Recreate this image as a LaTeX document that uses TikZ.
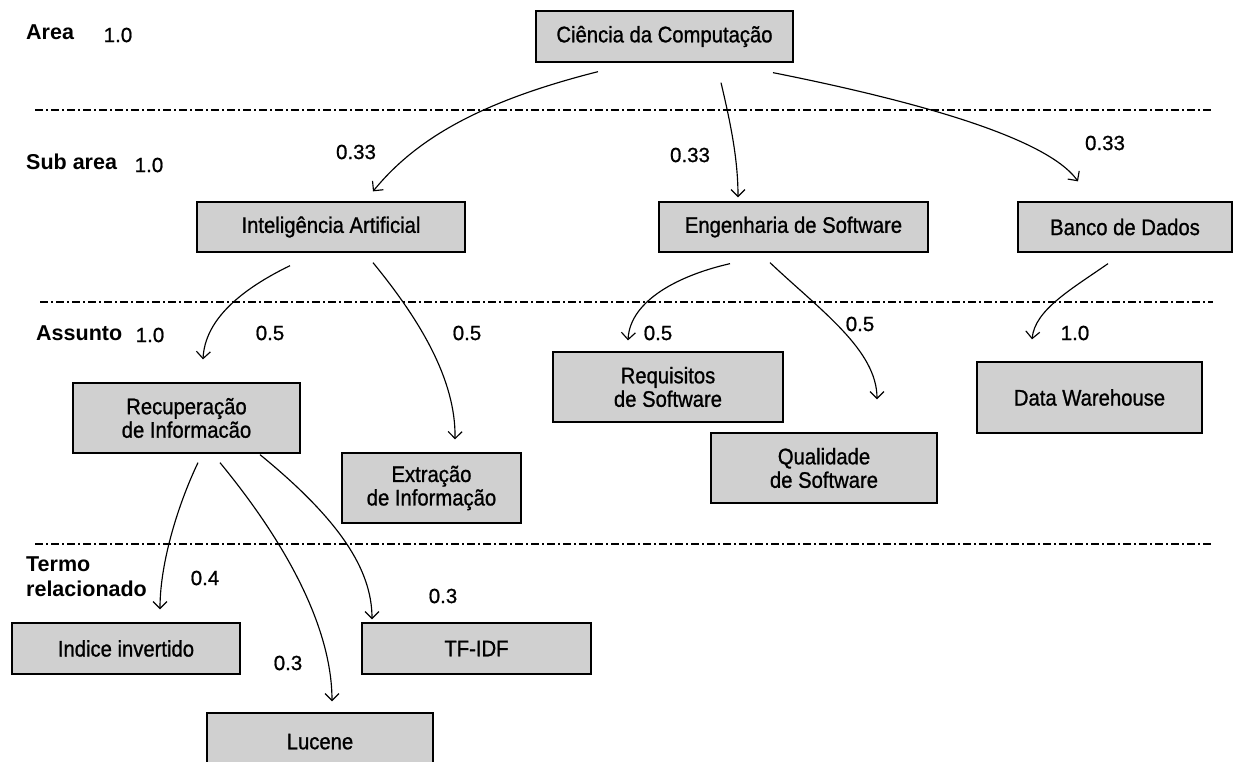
\documentclass[tikz,border=0pt]{standalone}
\usepackage{fontspec}
\setmainfont{Liberation Sans}
\newfontfamily\boxfont{Liberation Sans}[FakeStretch=0.9,FakeBold=1.0]
\newfontfamily\numfont{Liberation Sans}[FakeBold=0.8]
\usetikzlibrary{arrows.meta,calc}
\definecolor{boxgray}{RGB}{208,208,208}
\begin{document}
\begin{tikzpicture}[x=1pt,y=-1pt,
  box/.style={draw=black, line width=1.3pt, fill=boxgray, inner sep=0pt, align=center,
    font=\boxfont\fontsize{22.5}{23.5}\selectfont},
  lvl/.style={font=\bfseries\fontsize{21.5}{25}\selectfont, anchor=west, align=left, inner sep=0pt},
  wt/.style={font=\numfont\fontsize{20.5}{22}\selectfont, inner sep=0pt},
  sep/.style={line width=1.3pt, dash pattern=on 8pt off 3pt on 2pt off 3pt},
  arr/.style={line width=1.15pt, -{Straight Barb[length=7pt,width=14pt]}}]
\useasboundingbox (0,0) rectangle (1252,761);
\clip (0,0) rectangle (1252,761);

% separators
\draw[sep] (35,110) -- (1213,110);
\draw[sep] (40,302) -- (1213,302);
\draw[sep] (35,544) -- (1213,544);

% level labels
\node[lvl] (lArea) at (26,32) {Area};
\node[wt]  (wArea) at (118,35) {1.0};
\node[lvl] (lSub) at (26,162) {Sub area};
\node[wt]  (wSub) at (149,165) {1.0};
\node[lvl] (lAss) at (36,333) {Assunto};
\node[wt]  (wAss) at (150,335) {1.0};
\node[lvl] (lTer) at (26,577) {Termo\\relacionado};

% boxes
\node[box, minimum width=257pt, minimum height=51pt] (cc)   at (664.5,36.5) {Ciência da Computação};
\node[box, minimum width=268pt, minimum height=50pt] (ia)   at (331,227)   {Inteligência Artificial};
\node[box, minimum width=269pt, minimum height=50pt] (es)   at (793.5,227) {Engenharia de Software};
\node[box, minimum width=214pt, minimum height=50pt] (bd)   at (1125,227)  {Banco de Dados};
\node[box, minimum width=227pt, minimum height=70pt] (rec)  at (186.5,418) {Recuperação\\de Informacão};
\node[box, minimum width=179pt, minimum height=70pt] (ext)  at (431.5,488) {Extração\\de Informação};
\node[box, minimum width=230pt, minimum height=70pt] (req)  at (668,387)   {Requisitos\\de Software};
\node[box, minimum width=226pt, minimum height=70pt] (qual) at (824,468)   {Qualidade\\de Software};
\node[box, minimum width=225pt, minimum height=71pt] (dw)   at (1089.5,397.5) {Data Warehouse};
\node[box, minimum width=228pt, minimum height=51pt] (ind)  at (126,648.5) {Indice invertido};
\node[box, minimum width=229pt, minimum height=51pt] (tf)   at (476.5,648.5) {TF-IDF};
\node[box, minimum width=226pt, minimum height=64pt] (luc)  at (320,745)   {\raisebox{7pt}{Lucene}};

% weights
\node[wt] (w1) at (356,152) {0.33};
\node[wt] (w2) at (690,155) {0.33};
\node[wt] (w3) at (1105,143) {0.33};
\node[wt] (w4) at (270,333) {0.5};
\node[wt] (w5) at (467,333) {0.5};
\node[wt] (w6) at (658,333) {0.5};
\node[wt] (w7) at (860,324) {0.5};
\node[wt] (w8) at (1075,333) {1.0};
\node[wt] (w9) at (205,578) {0.4};
\node[wt] (w10) at (443,596) {0.3};
\node[wt] (w11) at (288,663) {0.3};

% connectors
\draw[arr] ($(cc.south)+(-66.5,9)$) .. controls (478,102) and (415,140) .. ($(ia.north)+(42,-10)$);
\draw[arr] ($(cc.south)+(56.5,20)$) .. controls (731,125) and (738,160) .. ($(es.north)+(-55.5,-4)$);
\draw[arr] ($(cc.south)+(108.5,10)$) .. controls (900,98) and (1045,135) .. ($(bd.north)+(-47,-20)$);
\draw[arr] ($(ia.south)+(-41,13)$) .. controls (240,290) and (205,320) .. ($(rec.north)+(16.5,-23)$);
\draw[arr] ($(ia.south)+(42,10)$) .. controls (420,320) and (456,380) .. ($(ext.north)+(23.5,-13)$);
\draw[arr] ($(es.south)+(-63.5,11)$) .. controls (680,275) and (630,300) .. ($(req.north)+(-40,-11)$);
\draw[arr] ($(es.south)+(-23.5,10)$) .. controls (820,310) and (877,350) .. ($(qual.north)+(53,-33)$);
\draw[arr] ($(bd.south)+(-17,11)$) .. controls (1070,290) and (1035,310) .. ($(dw.north)+(-57.5,-22)$);
\draw[arr] ($(rec.south)+(11.5,9)$) .. controls (180,500) and (160,560) .. ($(ind.north)+(34,-13)$);
\draw[arr] ($(rec.south)+(33.5,9)$) .. controls (300,560) and (332,640) .. ($(luc.north)+(12,-11)$);
\draw[arr] ($(rec.south)+(73.5,1)$) .. controls (340,520) and (372,570) .. ($(tf.north)+(-104.5,-3)$);
\end{tikzpicture}
\end{document}
